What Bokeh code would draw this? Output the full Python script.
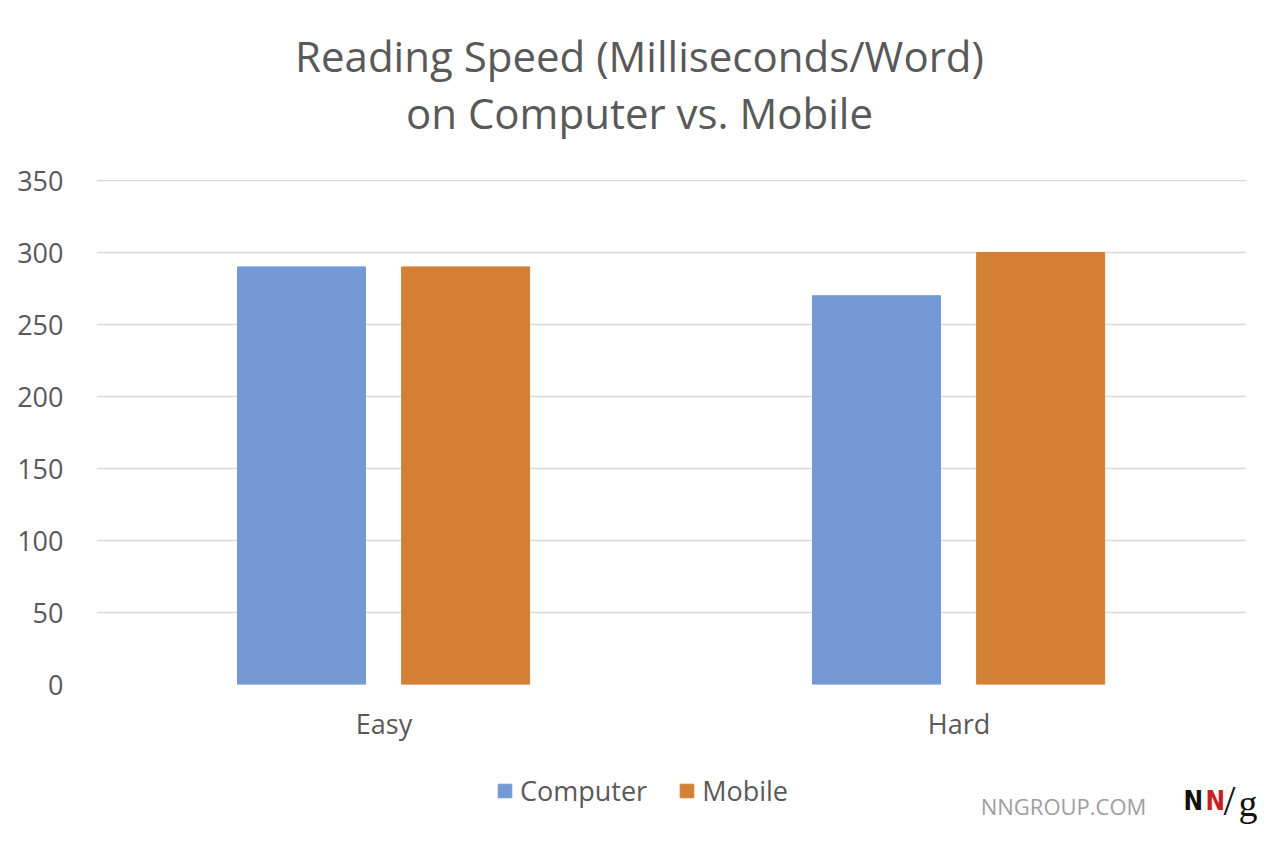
from bokeh.plotting import figure
from bokeh.models import ColumnDataSource, FactorRange, Range1d, Label, Legend, LegendItem, FixedTicker
from bokeh.layouts import column
from bokeh.transform import dodge
from bokeh.embed import file_html
from bokeh.resources import INLINE

categories = ["Easy", "Hard"]
computer = [290, 270]
mobile = [290, 300]
series_names = ["Computer", "Mobile"]
y_ticks = [0, 50, 100, 150, 200, 250, 300, 350]
title_lines = ["Reading Speed (Milliseconds/Word)", "on Computer vs. Mobile"]

BLUE = "#7499D5"
ORANGE = "#D38034"
TXT = "#595959"
FONT = "Open Sans"
W = 1264


def strip(height, y_top):
    f = figure(width=W, height=height, output_backend="svg", toolbar_location=None,
               x_range=Range1d(0, W), y_range=Range1d(y_top + height, y_top),
               x_axis_type=None, y_axis_type=None, min_border=0, frame_align=False)
    f.outline_line_color = None
    f.grid.grid_line_color = None
    f.background_fill_color = "white"
    f.border_fill_color = "white"
    return f


source = ColumnDataSource(dict(cat=categories, computer=computer, mobile=mobile))

# ---- title strip ----
top = strip(150, 0)
for yy, line in zip([55, 112], title_lines):
    top.add_layout(Label(x=639, y=yy, text=line, text_align="center", text_baseline="middle",
                         text_font=FONT, text_font_size="42px", text_color=TXT))

# ---- main chart ----
p = figure(width=W, height=610, output_backend="svg", toolbar_location=None,
           x_range=FactorRange(factors=categories, range_padding=0),
           y_range=Range1d(0, 350.7), frame_align=False,
           min_border_left=96, min_border_right=18, min_border_top=29, min_border_bottom=76)
p.outline_line_color = None
p.background_fill_color = "white"
p.border_fill_color = "white"

r1 = p.vbar(x=dodge("cat", -0.1435, range=p.x_range), top="computer", width=0.2226,
            source=source, fill_color=BLUE, line_color=BLUE)
r2 = p.vbar(x=dodge("cat", 0.142, range=p.x_range), top="mobile", width=0.2226,
            source=source, fill_color=ORANGE, line_color=ORANGE)

p.xgrid.grid_line_color = None
p.ygrid.grid_line_color = "#d9d9d9"
p.ygrid.grid_line_width = 1.5
p.yaxis.ticker = FixedTicker(ticks=y_ticks)

for ax in (p.xaxis, p.yaxis):
    ax.axis_line_color = None
    ax.major_tick_line_color = None
    ax.minor_tick_line_color = None
    ax.major_label_text_font = FONT
    ax.major_label_text_font_size = "27px"
    ax.major_label_text_color = TXT
p.yaxis.major_label_standoff = 27
p.xaxis.major_label_standoff = 14

# ---- legend + branding strip ----
bot = strip(67, 760)
# hidden stand-ins for the series so the legend can draw its swatches here
k1 = bot.vbar(x=0, top="computer", width=1, source=source, fill_color=BLUE, line_color=BLUE,
              visible=False)
k2 = bot.vbar(x=0, top="mobile", width=1, source=source, fill_color=ORANGE, line_color=ORANGE,
              visible=False)
legend = Legend(items=[LegendItem(label=series_names[0], renderers=[k1]),
                       LegendItem(label=series_names[1], renderers=[k2])],
                orientation="horizontal", location=(496, 18),
                glyph_width=17, glyph_height=17, label_standoff=7, spacing=31,
                padding=0, margin=0, border_line_color=None, background_fill_alpha=0,
                inactive_fill_alpha=0,
                label_text_font=FONT, label_text_font_size="27px", label_text_color=TXT,
                label_height=30)
bot.add_layout(legend, "center")


def brand(x, y, text, font, size, color, style="normal", align="left"):
    bot.add_layout(Label(x=x, y=y, text=text, text_align=align, text_baseline="alphabetic",
                         text_font=font, text_font_style=style, text_font_size=size,
                         text_color=color))


brand(1063, 805, "NNGROUP.COM", FONT, "22px", "#9d9da3", align="center")
brand(1183, 800, "N", "DejaVu Sans Condensed", "26px", "#111111", "bold")
brand(1205, 800, "N", "DejaVu Sans Condensed", "26px", "#c61f26", "bold")
brand(1223, 800, "/", "Liberation Serif", "43px", "#111111")
brand(1238, 802, "g", "Liberation Serif", "38px", "#111111")

layout = column(top, p, bot, spacing=0)
open("out.html", "w").write(file_html(layout, INLINE))
